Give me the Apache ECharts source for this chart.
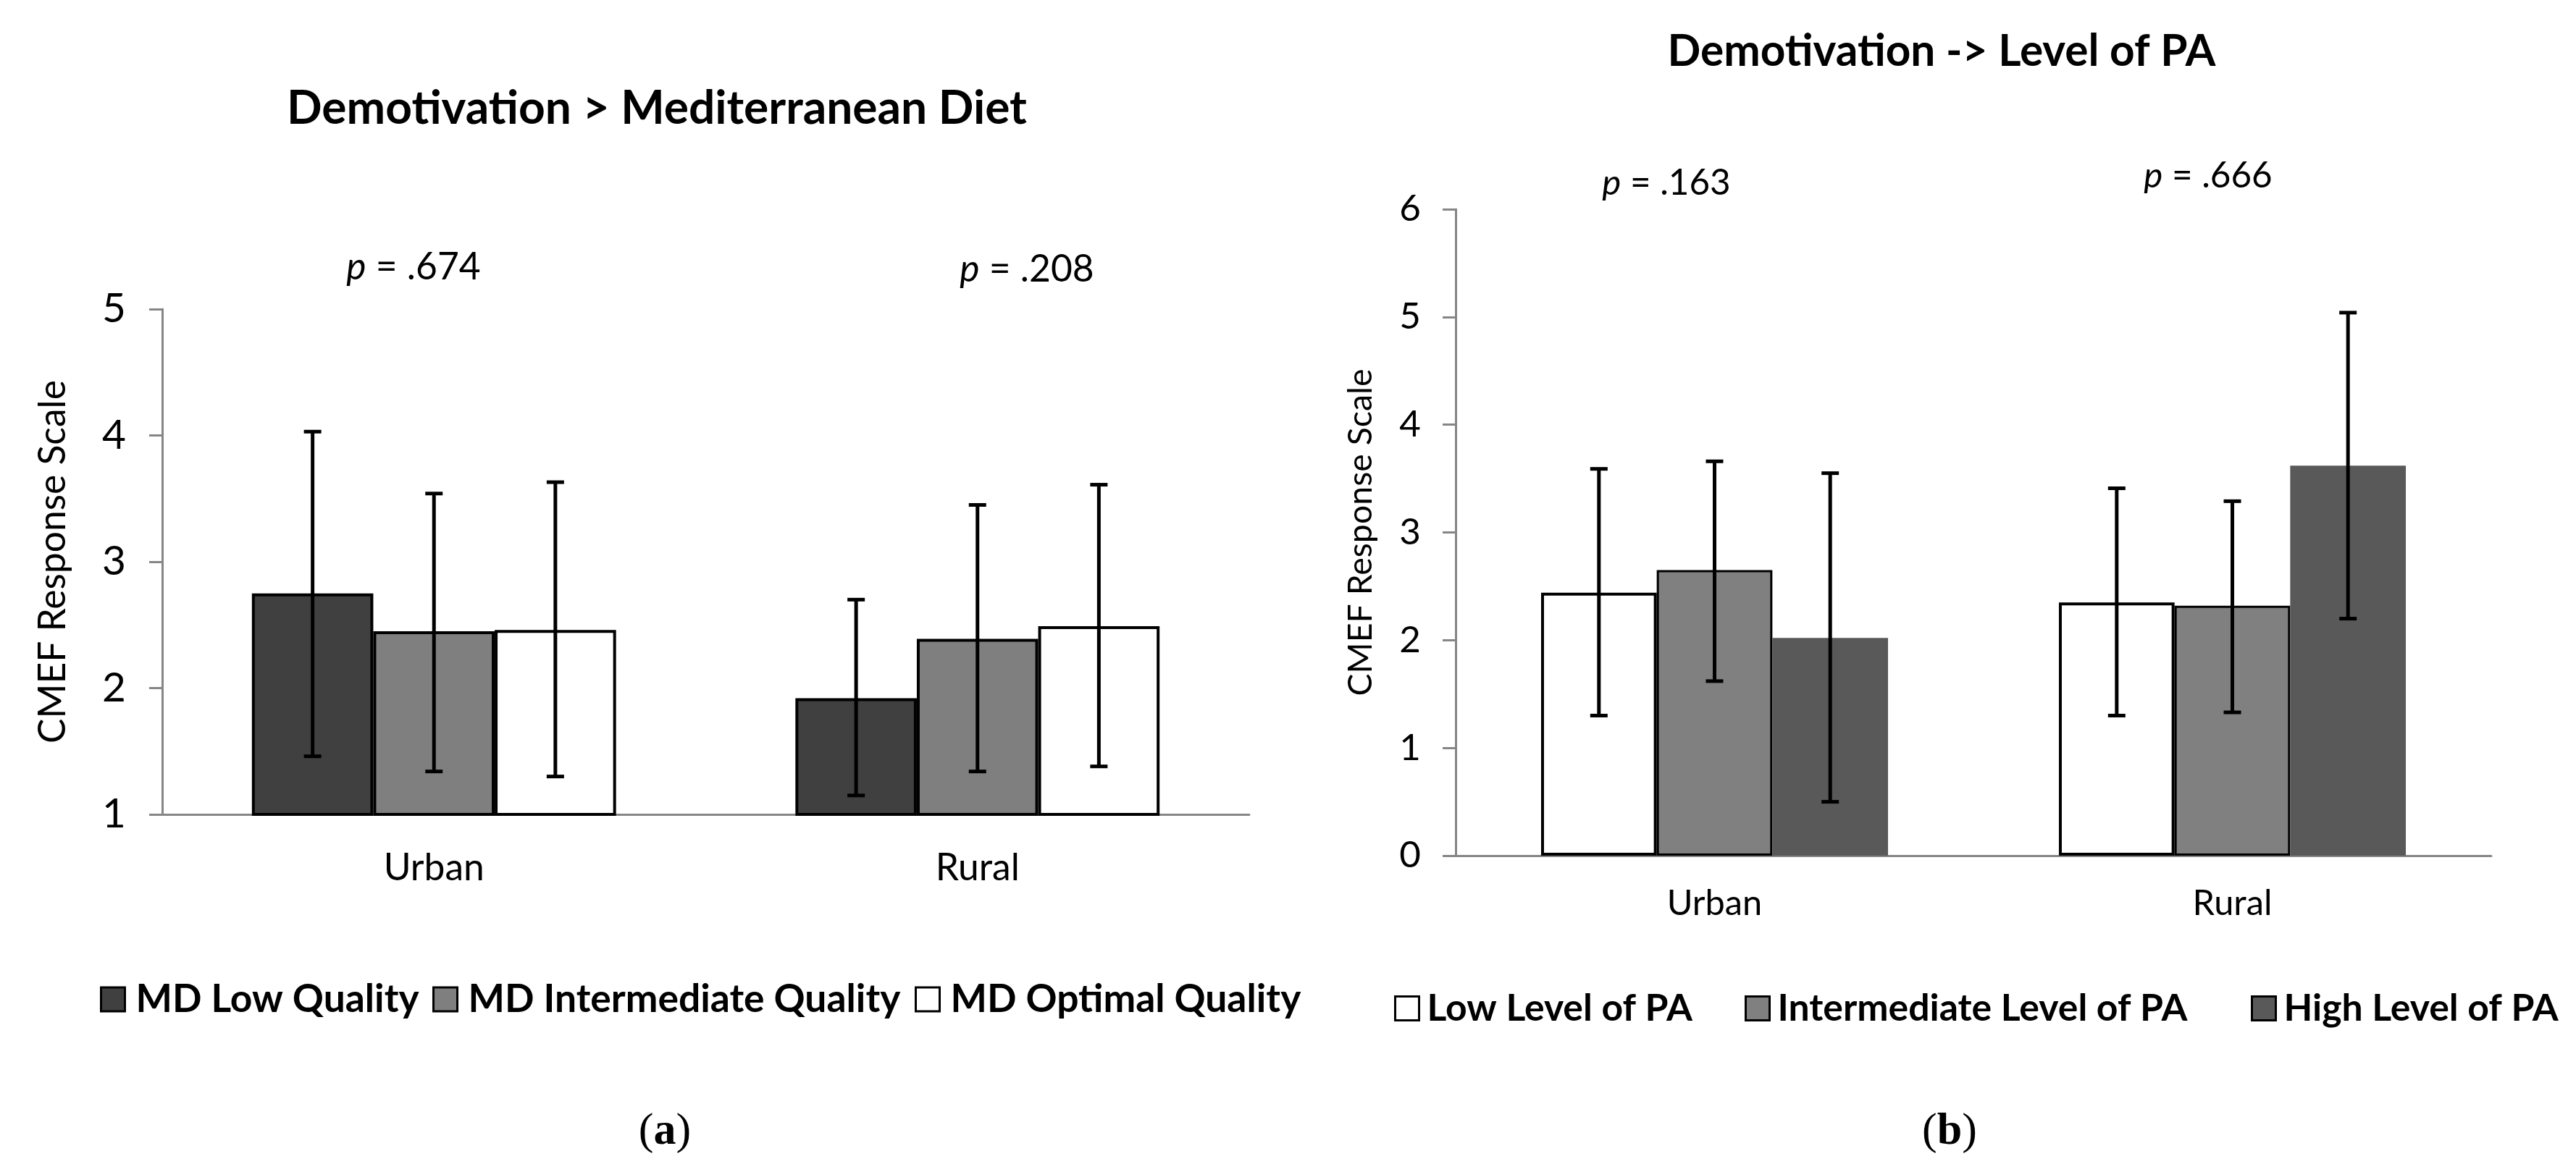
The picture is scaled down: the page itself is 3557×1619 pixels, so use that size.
<!DOCTYPE html>
<html><head><meta charset="utf-8">
<script src="https://cdn.jsdelivr.net/npm/echarts@6/dist/echarts.min.js"></script>
<style>html,body{margin:0;padding:0;background:#fff}#c{width:3557px;height:1619px}</style>
</head><body><div id="c"></div>
<script>
// ---------- data ----------
const categories = ['Urban', 'Rural'];

// Panel (a): Demotivation > Mediterranean Diet
const aTitle = 'Demotivation > Mediterranean Diet';
const aNames = ['MD Low Quality', 'MD Intermediate Quality', 'MD Optimal Quality'];
const aLowMean = [2.75, 1.92];
const aIntMean = [2.45, 2.39];
const aOptMean = [2.46, 2.49];
const aLowErrLo = [1.46, 1.15];
const aLowErrHi = [4.03, 2.70];
const aIntErrLo = [1.34, 1.34];
const aIntErrHi = [3.54, 3.45];
const aOptErrLo = [1.30, 1.38];
const aOptErrHi = [3.63, 3.61];
const aPValues = ['.674', '.208'];
const aYMin = 1, aYMax = 5;

// Panel (b): Demotivation -> Level of PA
const bTitle = 'Demotivation -> Level of PA';
const bNames = ['Low Level of PA', 'Intermediate Level of PA', 'High Level of PA'];
const bLowMean = [2.44, 2.35];
const bIntMean = [2.65, 2.32];
const bHighMean = [2.02, 3.62];
const bLowErrLo = [1.30, 1.30];
const bLowErrHi = [3.59, 3.41];
const bIntErrLo = [1.62, 1.33];
const bIntErrHi = [3.66, 3.29];
const bHighErrLo = [0.50, 2.20];
const bHighErrHi = [3.55, 5.04];
const bPValues = ['.163', '.666'];
const bYMin = 0, bYMax = 6;

const yName = 'CMEF Response Scale';

// ---------- helpers ----------
const FF = 'Lato';
const cx = document.createElement('canvas').getContext('2d');
function fit(text, weight, target, family) {
  cx.font = weight + ' 100px "' + (family || FF) + '"';
  return 100 * target / cx.measureText(text).width;
}
const GAP = 0.33;
const AXIS = '#868686';

function errSeries(axis, sIdx, lo, hi) {
  return {
    type: 'custom', xAxisIndex: axis, yAxisIndex: axis, z: 10, silent: true,
    data: lo.map((l, i) => [i, l, hi[i]]),
    encode: { x: 0, y: [1, 2] },
    renderItem(params, api) {
      const c = api.value(0);
      const band = api.size([1, 0])[0];
      const bw = band * (1 - GAP) / 3;
      const x = api.coord([c, api.value(1)])[0] + (sIdx - 1) * bw;
      const yl = api.coord([c, api.value(1)])[1];
      const yh = api.coord([c, api.value(2)])[1];
      const cap = 12;
      const st = { stroke: '#000', lineWidth: 5 };
      return { type: 'group', children: [
        { type: 'line', shape: { x1: x, y1: yl, x2: x, y2: yh }, style: st },
        { type: 'line', shape: { x1: x - cap, y1: yh, x2: x + cap, y2: yh }, style: st },
        { type: 'line', shape: { x1: x - cap, y1: yl, x2: x + cap, y2: yl }, style: st }
      ]};
    }
  };
}
function barSeries(axis, name, data, color, bw) {
  return {
    type: 'bar', name, xAxisIndex: axis, yAxisIndex: axis, data,
    barGap: '0%', barCategoryGap: (GAP * 100) + '%',
    itemStyle: { color, borderColor: '#000', borderWidth: bw },
    emphasis: { disabled: true }
  };
}

// font sizes
const aTitleSize = fit(aTitle, 'bold', 1022);
const bTitleSize = fit(bTitle, 'bold', 757);
const aLegSize = fit(aNames[1], 'bold', 597);
const bLegSize = fit(bNames[1], 'bold', 566);
const aTxt = fit(yName, 'normal', 502);
const bTxt = fit(yName, 'normal', 452);
const aP = fit('p = .674', 'normal', 187);
const bP = fit('p = .163', 'normal', 179);

function yAxisDef(idx, min, max, size, gap, margin) {
  return {
    type: 'value', gridIndex: idx, min, max, interval: 1,
    name: yName, nameLocation: 'middle', nameGap: gap,
    nameTextStyle: { fontFamily: FF, fontSize: size, color: '#000' },
    axisLine: { show: true, lineStyle: { color: AXIS, width: 3 } },
    axisTick: { show: true, length: 18, lineStyle: { color: AXIS, width: 3 } },
    splitLine: { show: false },
    axisLabel: { fontFamily: FF, fontSize: size * 1.1, color: '#000', margin }
  };
}
function xAxisDef(idx, size, margin) {
  return {
    type: 'category', gridIndex: idx, data: categories,
    axisLine: { show: true, onZero: false, lineStyle: { color: AXIS, width: 3 } },
    axisTick: { show: false },
    axisLabel: { fontFamily: FF, fontSize: size, color: '#000', margin }
  };
}
function legendItem(name, left, top, size, color, textPad) {
  return {
    left, top, padding: 0, itemWidth: 33, itemHeight: 33, icon: 'rect',
    selectedMode: false,
    data: [{ name, itemStyle: { color, borderColor: '#000', borderWidth: 3 } }],
    textStyle: { fontFamily: FF, fontWeight: 'bold', fontSize: size, color: '#000', padding: [0, 0, 0, textPad] }
  };
}
function txt(x, y, text, size, weight, extra) {
  return { type: 'text', x, y, silent: true,
    style: Object.assign({ text, fontFamily: FF, fontSize: size, fontWeight: weight, fill: '#000',
      align: 'center', verticalAlign: 'middle' }, extra || {}) };
}
function pTxt(x, y, val, size) {
  return txt(x, y, '{i|p} = ' + val, size, 'normal',
    { rich: { i: { fontStyle: 'italic', fontFamily: FF, fontSize: size } } });
}

const aColors = ['#404040', '#7f7f7f', '#ffffff'];
const bColors = ['#ffffff', '#808080', '#595959'];

const option = {
  backgroundColor: '#fff',
  animation: false,
  grid: [
    { left: 224, right: 3557 - 1725, top: 427, bottom: 1619 - 1125 },
    { left: 2010, right: 3557 - 3440, top: 289, bottom: 1619 - 1182 }
  ],
  xAxis: [xAxisDef(0, aTxt, 48), xAxisDef(1, bTxt * 1.05, 42)],
  yAxis: [yAxisDef(0, aYMin, aYMax, aTxt, 125, 50), yAxisDef(1, bYMin, bYMax, bTxt, 108, 48)],
  legend: [
    legendItem(aNames[0], 138, 1371 - 17, aLegSize, aColors[0], 10),
    legendItem(aNames[1], 597, 1371 - 17, aLegSize, aColors[1], 10),
    legendItem(aNames[2], 1263, 1371 - 17, aLegSize, aColors[2], 10),
    legendItem(bNames[0], 1925, 1384 - 17, bLegSize, bColors[0], 6),
    legendItem(bNames[1], 2409, 1384 - 17, bLegSize, bColors[1], 6),
    legendItem(bNames[2], 3108, 1384 - 17, bLegSize, bColors[2], 6)
  ],
  graphic: [
    txt(907, 150, aTitle, aTitleSize, 'bold'),
    txt(2681, 72, bTitle, bTitleSize, 'bold'),
    pTxt(571, 369, aPValues[0], aP),
    pTxt(1418, 372, aPValues[1], aP),
    pTxt(2301, 253, bPValues[0], bP),
    pTxt(3049, 243, bPValues[1], bP),
    txt(918, 1564, '({b|a})', 62, 'normal', { fontFamily: 'Liberation Serif',
      rich: { b: { fontWeight: 'bold', fontFamily: 'Liberation Serif', fontSize: 62 } } }),
    txt(2692, 1564, '({b|b})', 62, 'normal', { fontFamily: 'Liberation Serif',
      rich: { b: { fontWeight: 'bold', fontFamily: 'Liberation Serif', fontSize: 62 } } })
  ],
  series: [
    barSeries(0, aNames[0], aLowMean, aColors[0], 4),
    barSeries(0, aNames[1], aIntMean, aColors[1], 4),
    barSeries(0, aNames[2], aOptMean, aColors[2], 4),
    errSeries(0, 0, aLowErrLo, aLowErrHi),
    errSeries(0, 1, aIntErrLo, aIntErrHi),
    errSeries(0, 2, aOptErrLo, aOptErrHi),
    barSeries(1, bNames[0], bLowMean, bColors[0], 4),
    barSeries(1, bNames[1], bIntMean, bColors[1], 3),
    barSeries(1, bNames[2], bHighMean, bColors[2], 0),
    errSeries(1, 0, bLowErrLo, bLowErrHi),
    errSeries(1, 1, bIntErrLo, bIntErrHi),
    errSeries(1, 2, bHighErrLo, bHighErrHi)
  ]
};
const chart = echarts.init(document.getElementById('c'), null, { renderer: 'canvas' });
chart.setOption(option);
</script></body></html>
